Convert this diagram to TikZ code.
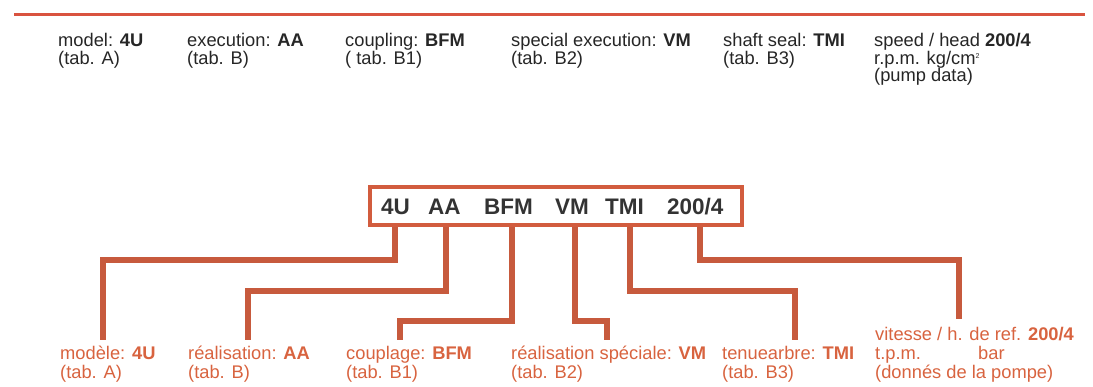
\documentclass[tikz,border=0pt]{standalone}
\usepackage{fontspec}
\setmainfont{Liberation Sans}
\definecolor{lineRed}{HTML}{C75A3D}
\definecolor{txtRed}{HTML}{D8633F}
\definecolor{boxRed}{HTML}{D25C3E}
\definecolor{topRed}{HTML}{D9533F}
\definecolor{darkTxt}{HTML}{262626}
\definecolor{codeTxt}{HTML}{333333}
\tikzset{
  toplabel/.style={anchor=base west, align=left, inner sep=0pt, font=\fontsize{18.3}{17.5}\selectfont, text=darkTxt},
  botlabel/.style={anchor=base west, align=left, inner sep=0pt, font=\fontsize{18.3}{19}\selectfont, text=txtRed},
  codetxt/.style={anchor=base west, inner sep=0pt, font=\fontsize{22.5}{24}\selectfont\bfseries, text=codeTxt},
  codebox/.style={draw=boxRed, line width=4.5pt, minimum width=372pt, minimum height=38pt, inner sep=0pt},
  conn/.style={draw=lineRed, line width=6.5pt, line join=miter},
  toprule/.style={draw=topRed, line width=3pt}
}
\begin{document}
\begin{tikzpicture}[x=1pt,y=-1pt]
\useasboundingbox (0,0) rectangle (1093,387);
% top rule
\coordinate (r1) at (14,15);
\coordinate (r2) at (1085,15);
\draw[toprule] (r1) -- (r2);
% top labels (anchored at the baseline of the last line)
\node[toplabel] (t1) at (58,64.5) {model: \textbf{4U}\\(tab. A)};
\node[toplabel] (t2) at (187,64.5) {execution: \textbf{AA}\\(tab. B)};
\node[toplabel] (t3) at (345,64.5) {coupling: \textbf{BFM}\\( tab. B1)};
\node[toplabel] (t4) at (511,64.5) {special execution: \textbf{VM}\\(tab. B2)};
\node[toplabel] (t5) at (723,64.5) {shaft seal: \textbf{TMI}\\(tab. B3)};
\node[toplabel] (t6) at (874,82) {speed / head \textbf{200/4}\\r.p.m. kg/cm\textsuperscript{\scriptsize 2}\\(pump data)};
% code box
\node[codebox] (box) at (556,206) {};
\node[codetxt] (c1) at (381,215) {4U};
\node[codetxt] (c2) at (428,215) {AA};
\node[codetxt] (c3) at (484,215) {BFM};
\node[codetxt] (c4) at (555,215) {VM};
\node[codetxt] (c5) at (605,215) {TMI};
\node[codetxt] (c6) at (667,215) {200/4};
% stems and ends
\coordinate (s1) at (395,0);
\coordinate (s2) at (446,0);
\coordinate (s3) at (512,0);
\coordinate (s4) at (575,0);
\coordinate (s5) at (630,0);
\coordinate (s6) at (700,0);
\coordinate (e1) at (103,340);
\coordinate (e2) at (248,340);
\coordinate (e3) at (400,340);
\coordinate (e4) at (607,340);
\coordinate (e5) at (795,340);
\coordinate (e6) at (959,319);
\draw[conn] (box.south -| s1) -- ++(0,33) -| (e1);
\draw[conn] (box.south -| s2) -- ++(0,64) -| (e2);
\draw[conn] (box.south -| s3) -- ++(0,94) -| (e3);
\draw[conn] (box.south -| s4) -- ++(0,94) -| (e4);
\draw[conn] (box.south -| s5) -- ++(0,64) -| (e5);
\draw[conn] (box.south -| s6) -- ++(0,33) -| (e6);
% bottom labels (anchored at the baseline of the last line)
\node[botlabel] (b1) at (60,378) {modèle: \textbf{4U}\\(tab. A)};
\node[botlabel] (b2) at (188,378) {réalisation: \textbf{AA}\\(tab. B)};
\node[botlabel] (b3) at (346,378) {couplage: \textbf{BFM}\\(tab. B1)};
\node[botlabel] (b4) at (511,378) {réalisation spéciale: \textbf{VM}\\(tab. B2)};
\node[botlabel] (b5) at (722,378) {tenuearbre: \textbf{TMI}\\(tab. B3)};
\node[botlabel] (b6) at (875,379) {vitesse / h. de ref. \textbf{200/4}\\\makebox[103pt][l]{t.p.m.}bar\\(donnés de la pompe)};
\end{tikzpicture}
\end{document}
